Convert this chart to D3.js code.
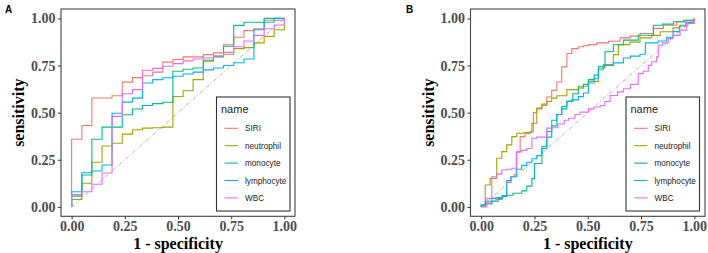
<!DOCTYPE html>
<html><head><meta charset="utf-8">
<script src="https://cdn.jsdelivr.net/npm/d3@7"></script>
<style>body{margin:0;background:#fff}svg{display:block}</style>
</head><body>
<svg id="chart" width="708" height="253"></svg>
<script>
const seriesNames = ["SIRI", "neutrophil", "monocyte", "lymphocyte", "WBC"];
const seriesColors = ["#F8766D", "#A3A500", "#00BF7D", "#00B0F6", "#E76BF3"];
const tickValues = [0, 0.25, 0.5, 0.75, 1];
const tickLabels = ["0.00", "0.25", "0.50", "0.75", "1.00"];
const xTitle = "1 - specificity";
const yTitle = "sensitivity";
const legendTitle = "name";

// Panel A (1 - specificity, sensitivity)
const A_SIRI_fpr = [0, 0, 0.048, 0.095, 0.190, 0.238, 0.286, 0.333, 0.381, 0.429, 0.476, 0.524, 0.619, 0.667, 0.714, 0.762, 0.810, 0.857, 0.905, 1];
const A_SIRI_tpr = [0, 0.359, 0.432, 0.578, 0.59, 0.662, 0.686, 0.696, 0.715, 0.768, 0.782, 0.796, 0.808, 0.817, 0.86, 0.90, 0.935, 0.945, 0.99, 1.0];
const A_neutrophil_fpr = [0, 0, 0.048, 0.095, 0.143, 0.190, 0.238, 0.286, 0.333, 0.381, 0.429, 0.476, 0.524, 0.571, 0.619, 0.667, 0.714, 0.762, 0.810, 0.857, 0.905, 0.952, 1];
const A_neutrophil_tpr = [0, 0.039, 0.125, 0.237, 0.323, 0.338, 0.386, 0.409, 0.418, 0.42, 0.423, 0.586, 0.616, 0.675, 0.773, 0.80, 0.81, 0.84, 0.845, 0.87, 0.905, 0.94, 1.0];
const A_monocyte_fpr = [0, 0, 0.048, 0.095, 0.143, 0.238, 0.286, 0.333, 0.381, 0.429, 0.476, 0.524, 0.571, 0.619, 0.667, 0.714, 0.762, 0.810, 0.857, 0.905, 1];
const A_monocyte_tpr = [0, 0.057, 0.169, 0.359, 0.423, 0.489, 0.519, 0.538, 0.548, 0.555, 0.72, 0.73, 0.737, 0.778, 0.796, 0.852, 0.963, 0.98, 0.98, 1.0, 1.0];
const A_lymphocyte_fpr = [0, 0, 0.048, 0.095, 0.143, 0.190, 0.238, 0.286, 0.333, 0.381, 0.429, 0.476, 0.524, 0.571, 0.619, 0.667, 0.714, 0.762, 0.810, 0.857, 0.905, 0.952, 1];
const A_lymphocyte_tpr = [0, 0.08, 0.181, 0.19, 0.222, 0.497, 0.556, 0.577, 0.657, 0.675, 0.685, 0.693, 0.705, 0.715, 0.727, 0.737, 0.75, 0.765, 0.785, 0.94, 0.98, 1.0, 1.0];
const A_WBC_fpr = [0, 0, 0.048, 0.095, 0.143, 0.190, 0.238, 0.286, 0.333, 0.381, 0.429, 0.476, 0.524, 0.571, 0.619, 0.667, 0.714, 0.762, 0.810, 0.857, 0.905, 0.952, 1];
const A_WBC_tpr = [0, 0.065, 0.08, 0.12, 0.18, 0.48, 0.60, 0.622, 0.725, 0.735, 0.746, 0.76, 0.775, 0.785, 0.79, 0.80, 0.82, 0.85, 0.88, 0.91, 0.945, 0.965, 1.0];

// Panel B
const B_SIRI_fpr = [0, 0.003, 0.02, 0.05, 0.07, 0.097, 0.12, 0.14, 0.155, 0.165, 0.183, 0.206, 0.23, 0.245, 0.261, 0.284, 0.308, 0.331, 0.355, 0.378, 0.402, 0.425, 0.456, 0.48, 0.503, 0.542, 0.597, 0.652, 0.698, 0.745, 0.808, 0.855, 0.917, 0.96, 1.0];
const B_SIRI_tpr = [0, 0.005, 0.02, 0.03, 0.04, 0.06, 0.13, 0.16, 0.17, 0.29, 0.373, 0.39, 0.4, 0.5, 0.52, 0.538, 0.583, 0.618, 0.663, 0.743, 0.814, 0.84, 0.85, 0.855, 0.861, 0.87, 0.879, 0.897, 0.906, 0.92, 0.947, 0.964, 0.982, 0.99, 1.0];
const B_neutrophil_fpr = [0, 0, 0.019, 0.042, 0.073, 0.097, 0.12, 0.144, 0.167, 0.2, 0.238, 0.261, 0.285, 0.308, 0.331, 0.355, 0.402, 0.456, 0.503, 0.55, 0.573, 0.62, 0.644, 0.698, 0.745, 0.8, 0.84, 0.9, 0.933, 0.97, 1];
const B_neutrophil_tpr = [0, 0.005, 0.116, 0.151, 0.258, 0.293, 0.329, 0.373, 0.391, 0.395, 0.444, 0.524, 0.545, 0.559, 0.577, 0.59, 0.622, 0.64, 0.666, 0.728, 0.755, 0.808, 0.861, 0.874, 0.897, 0.91, 0.929, 0.95, 0.964, 0.98, 1.0];
const B_monocyte_fpr = [0, 0, 0.02, 0.05, 0.08, 0.1, 0.12, 0.15, 0.19, 0.214, 0.238, 0.25, 0.285, 0.308, 0.331, 0.355, 0.378, 0.402, 0.43, 0.456, 0.48, 0.503, 0.53, 0.55, 0.581, 0.62, 0.667, 0.737, 0.808, 0.85, 0.902, 0.95, 1];
const B_monocyte_tpr = [0, 0.01, 0.015, 0.03, 0.045, 0.055, 0.062, 0.072, 0.085, 0.11, 0.15, 0.23, 0.31, 0.37, 0.43, 0.49, 0.52, 0.56, 0.6, 0.631, 0.65, 0.675, 0.7, 0.746, 0.823, 0.86, 0.885, 0.911, 0.964, 0.97, 0.982, 0.99, 1.0];
const B_lymphocyte_fpr = [0, 0, 0.02, 0.05, 0.07, 0.1, 0.12, 0.14, 0.167, 0.19, 0.214, 0.238, 0.261, 0.285, 0.308, 0.331, 0.355, 0.378, 0.402, 0.425, 0.456, 0.48, 0.503, 0.53, 0.55, 0.58, 0.62, 0.667, 0.7, 0.745, 0.77, 0.83, 0.87, 0.9, 0.93, 0.96, 1];
const B_lymphocyte_tpr = [0, 0.01, 0.03, 0.045, 0.05, 0.06, 0.14, 0.16, 0.2, 0.22, 0.237, 0.255, 0.272, 0.32, 0.4, 0.46, 0.49, 0.533, 0.56, 0.568, 0.585, 0.604, 0.657, 0.68, 0.737, 0.75, 0.764, 0.79, 0.8, 0.81, 0.87, 0.88, 0.9, 0.93, 0.96, 0.98, 1.0];
const B_WBC_fpr = [0, 0.027, 0.05, 0.073, 0.097, 0.12, 0.144, 0.167, 0.19, 0.214, 0.238, 0.261, 0.285, 0.308, 0.331, 0.36, 0.39, 0.41, 0.44, 0.464, 0.503, 0.53, 0.558, 0.58, 0.605, 0.64, 0.667, 0.7, 0.737, 0.76, 0.784, 0.8, 0.823, 0.831, 0.85, 0.878, 0.9, 0.933, 0.964, 1];
const B_WBC_tpr = [0, 0.045, 0.16, 0.175, 0.196, 0.2, 0.205, 0.293, 0.3, 0.31, 0.364, 0.37, 0.37, 0.418, 0.42, 0.44, 0.46, 0.47, 0.49, 0.503, 0.52, 0.53, 0.538, 0.56, 0.591, 0.61, 0.627, 0.65, 0.707, 0.72, 0.751, 0.77, 0.796, 0.858, 0.87, 0.893, 0.91, 0.938, 0.973, 1.0];

const panelA = {
  label: "A",
  fpr: [A_SIRI_fpr, A_neutrophil_fpr, A_monocyte_fpr, A_lymphocyte_fpr, A_WBC_fpr],
  tpr: [A_SIRI_tpr, A_neutrophil_tpr, A_monocyte_tpr, A_lymphocyte_tpr, A_WBC_tpr]
};
const panelB = {
  label: "B",
  fpr: [B_SIRI_fpr, B_neutrophil_fpr, B_monocyte_fpr, B_lymphocyte_fpr, B_WBC_fpr],
  tpr: [B_SIRI_tpr, B_neutrophil_tpr, B_monocyte_tpr, B_lymphocyte_tpr, B_WBC_tpr]
};

const layout = [
  {p: panelA, left: 61, right: 295, labelX: 5, labelY: 13, yTitleX: 24, legX: 216.5},
  {p: panelB, left: 470.5, right: 705, labelX: 406, labelY: 13, yTitleX: 434, legX: 626}
];
const plotTop = 9, plotBottom = 216.3;

const svg = d3.select("#chart");
const serif = "'Liberation Serif','Times New Roman',serif";
const sans = "'Liberation Sans',Arial,sans-serif";

layout.forEach(L => {
  const x = d3.scaleLinear().domain([-0.05, 1.05]).range([L.left, L.right]);
  const y = d3.scaleLinear().domain([-0.05, 1.05]).range([plotBottom, plotTop]);
  const g = svg.append("g");

  const ya = g.append("g").attr("transform", `translate(${L.left},0)`)
    .call(d3.axisLeft(y).tickValues(tickValues).tickFormat((d, i) => tickLabels[i]).tickSize(3).tickPadding(2.5));
  const xa = g.append("g").attr("transform", `translate(0,${plotBottom})`)
    .call(d3.axisBottom(x).tickValues(tickValues).tickFormat((d, i) => tickLabels[i]).tickSize(3).tickPadding(2));
  [ya, xa].forEach(a => {
    a.select(".domain").remove();
    a.selectAll(".tick line").attr("stroke", "#333").attr("stroke-width", 1);
    a.selectAll(".tick text").attr("fill", "#4D4D4D")
      .style("font-family", serif).style("font-weight", "bold").style("font-size", "14px");
  });

  g.append("line")
    .attr("x1", x(0)).attr("y1", y(0)).attr("x2", x(1)).attr("y2", y(1))
    .attr("stroke", "#AAAAAA").attr("stroke-width", 0.9)
    .attr("stroke-dasharray", "4,2,1,2");

  const line = d3.line().x(d => x(d[0])).y(d => y(d[1])).curve(d3.curveStepAfter);
  seriesNames.forEach((name, i) => {
    const pts = L.p.fpr[i].map((f, j) => [f, L.p.tpr[i][j]]);
    g.append("path").datum(pts).attr("d", line)
      .attr("fill", "none").attr("stroke", seriesColors[i]).attr("stroke-width", 1.1);
  });

  g.append("rect").attr("x", L.left).attr("y", plotTop)
    .attr("width", L.right - L.left).attr("height", plotBottom - plotTop)
    .attr("fill", "none").attr("stroke", "#444").attr("stroke-width", 1.1);

  g.append("text").attr("x", (L.left + L.right) / 2).attr("y", 249)
    .attr("text-anchor", "middle").style("font-family", serif).style("font-weight", "bold")
    .style("font-size", "16px").attr("fill", "#000").text(xTitle);
  g.append("text").attr("transform", `translate(${L.yTitleX},${(plotTop + plotBottom) / 2}) rotate(-90)`)
    .attr("text-anchor", "middle").style("font-family", serif).style("font-weight", "bold")
    .style("font-size", "16px").attr("fill", "#000").text(yTitle);

  g.append("text").attr("x", L.labelX).attr("y", L.labelY)
    .style("font-family", sans).style("font-weight", "bold").style("font-size", "10px")
    .attr("fill", "#000").text(L.p.label);

  const lg = g.append("g").attr("transform", `translate(${L.legX},97)`);
  lg.append("rect").attr("width", 73.5).attr("height", 114)
    .attr("fill", "#fff").attr("stroke", "#333").attr("stroke-width", 1.1);
  lg.append("text").attr("x", 4.5).attr("y", 16).style("font-family", sans)
    .style("font-size", "11px").attr("fill", "#222").text(legendTitle);
  seriesNames.forEach((name, i) => {
    const cy = 31.3 + i * 17.4;
    lg.append("line").attr("x1", 8).attr("x2", 21.5).attr("y1", cy).attr("y2", cy)
      .attr("stroke", seriesColors[i]).attr("stroke-width", 1.1);
    lg.append("text").attr("x", 28.5).attr("y", cy + 3).style("font-family", sans)
      .style("font-size", "8.2px").attr("fill", "#222").text(name);
  });
});
</script>
</body></html>
